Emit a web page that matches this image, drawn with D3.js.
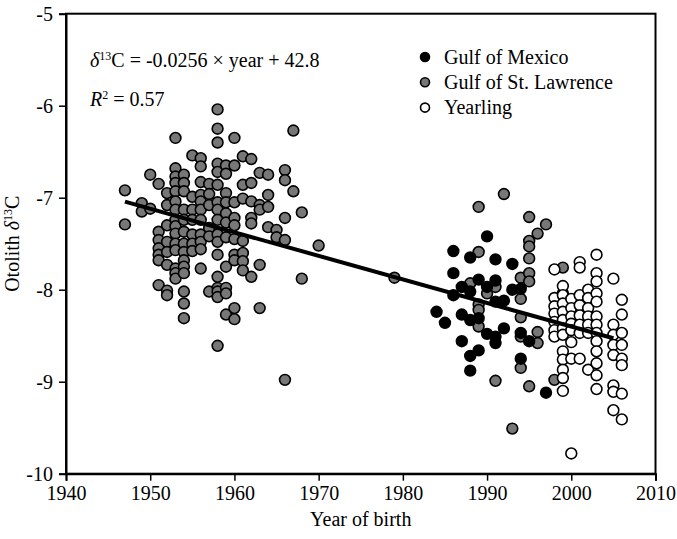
<!DOCTYPE html>
<html lang="en">
<head>
<meta charset="UTF-8">
<title>Otolith d13C by year of birth</title>
<script src="https://d3js.org/d3.v7.min.js"></script>
<style>
  body { margin: 0; background: #fff; }
  text { font-family: "Liberation Serif", "Times New Roman", serif; fill: #000; }
</style>
</head>
<body>
<svg id="chart" width="677" height="539"></svg>
<script>
// values, grouped by year of birth
const stLawrence = [
  [1947, [-6.92, -7.29]],
  [1949, [-7.06, -7.15]],
  [1950, [-6.75, -7.12]],
  [1951, [-6.85, -7.37, -7.46, -7.55, -7.62, -7.68, -7.95]],
  [1952, [-6.95, -7.08, -7.30, -7.48, -7.59, -7.73, -8.01, -8.06]],
  [1953, [-6.35, -6.68, -6.77, -6.84, -6.93, -7.04, -7.13, -7.24, -7.31, -7.39, -7.50, -7.57, -7.77, -7.82, -7.88]],
  [1954, [-6.75, -6.84, -6.93, -7.13, -7.24, -7.37, -7.50, -7.59, -7.68, -7.75, -7.82, -8.02, -8.15, -8.31]],
  [1955, [-6.54, -6.99, -7.13, -7.24, -7.40, -7.50, -7.58]],
  [1956, [-6.57, -6.66, -6.83, -6.97, -7.04, -7.13, -7.24, -7.40, -7.48, -7.56, -7.77]],
  [1957, [-6.85, -6.96, -7.08, -7.33, -7.42, -8.02]],
  [1958, [-6.04, -6.25, -6.40, -6.63, -6.72, -6.86, -7.05, -7.13, -7.24, -7.40, -7.48, -7.62, -7.86, -7.98, -8.02, -8.08, -8.61]],
  [1959, [-6.65, -6.74, -6.95, -7.05, -7.17, -7.27, -7.43, -7.75, -7.98, -8.04, -8.27]],
  [1960, [-6.35, -6.65, -7.05, -7.22, -7.30, -7.45, -7.62, -7.68, -8.20, -8.32]],
  [1961, [-6.55, -6.86, -7.01, -7.47, -7.60, -7.69, -7.79]],
  [1962, [-6.58, -6.84, -7.04, -7.22, -7.28, -7.86]],
  [1963, [-6.73, -7.08, -7.13, -7.73, -8.20]],
  [1964, [-6.75, -6.97, -7.10, -7.32]],
  [1965, [-7.35, -7.43]],
  [1966, [-6.70, -6.81, -7.22, -7.46, -8.98]],
  [1967, [-6.27, -6.93]],
  [1968, [-7.16, -7.88]],
  [1970, [-7.52]],
  [1979, [-7.87]],
  [1988, [-7.93]],
  [1989, [-7.10, -7.59, -8.16, -8.22, -8.40]],
  [1990, [-8.04]],
  [1991, [-7.97, -8.99]],
  [1992, [-6.96]],
  [1993, [-9.51]],
  [1994, [-7.87, -8.10, -8.30, -8.51, -8.85]],
  [1995, [-7.21, -7.47, -7.53, -7.66, -7.82, -7.91, -9.05]],
  [1996, [-7.39, -8.46, -8.58]],
  [1997, [-7.29]],
  [1998, [-8.98]],
  [1999, [-7.76, -8.04]]
];

const gulfMexico = [
  [1984, [-8.24]],
  [1985, [-8.36]],
  [1986, [-7.58, -7.82, -8.06]],
  [1987, [-7.97, -8.27, -8.56]],
  [1988, [-7.65, -8.02, -8.33, -8.72, -8.88]],
  [1989, [-7.89, -8.31, -8.66]],
  [1990, [-7.42, -7.97, -8.48]],
  [1991, [-7.67, -7.90, -8.13, -8.51, -8.58]],
  [1992, [-8.12, -8.42]],
  [1993, [-7.72, -8.00]],
  [1994, [-7.99, -8.47, -8.75]],
  [1995, [-8.56]],
  [1997, [-9.12]]
];

const yearling = [
  [1998, [-7.78, -8.09, -8.18, -8.26, -8.35, -8.44, -8.51]],
  [1999, [-7.96, -8.06, -8.15, -8.24, -8.33, -8.42, -8.49, -8.67, -8.76, -8.87, -8.96, -9.10]],
  [2000, [-8.10, -8.20, -8.29, -8.37, -8.44, -8.57, -8.75, -9.78]],
  [2001, [-7.70, -7.76, -8.06, -8.17, -8.28, -8.38, -8.47, -8.75]],
  [2002, [-8.00, -8.09, -8.20, -8.29, -8.38, -8.47, -8.87]],
  [2003, [-7.62, -7.82, -7.91, -8.04, -8.13, -8.29, -8.38, -8.47, -8.56, -8.67, -8.80, -8.93, -9.08]],
  [2005, [-7.88, -8.38, -8.49, -8.60, -8.71, -9.04, -9.11, -9.31]],
  [2006, [-8.11, -8.27, -8.47, -8.60, -8.75, -8.82, -9.13, -9.41]]
];

const xTicks = [1940, 1950, 1960, 1970, 1980, 1990, 2000, 2010];
const yTicks = [-10, -9, -8, -7, -6, -5];
const fitYears = [1947, 2005];
const slope = -0.0256, intercept = 42.8;

const legendItems = [
  { name: "Gulf of Mexico", fill: "#000" },
  { name: "Gulf of St. Lawrence", fill: "#777" },
  { name: "Yearling", fill: "#fff" }
];

const flat = groups => groups.flatMap(([yr, vals]) => vals.map(v => ({ year: yr, value: v })));

const svg = d3.select("#chart");
const margin = { top: 13.7, right: 21.5, bottom: 65.3, left: 66 };
const width = +svg.attr("width");
const height = +svg.attr("height");

const x = d3.scaleLinear().domain([1940, 2010]).range([margin.left, width - margin.right]);
const y = d3.scaleLinear().domain([-10, -5]).range([height - margin.bottom, margin.top]);

// frame
svg.append("rect")
  .attr("x", x(1940)).attr("y", y(-5))
  .attr("width", x(2010) - x(1940)).attr("height", y(-10) - y(-5))
  .attr("fill", "none").attr("stroke", "#000").attr("stroke-width", 2);

const xAxis = svg.append("g")
  .attr("transform", `translate(0,${y(-10)})`)
  .call(d3.axisBottom(x).tickValues(xTicks).tickFormat(d => String(d)).tickSizeOuter(0).tickSize(7).tickPadding(5));
xAxis.select(".domain").attr("stroke-width", 2);
xAxis.selectAll(".tick line").attr("stroke-width", 1.5);
xAxis.selectAll("text").style("font-size", "20px").style("font-family", "Liberation Serif, serif");

const yAxis = svg.append("g")
  .attr("transform", `translate(${x(1940)},0)`)
  .call(d3.axisLeft(y).tickValues(yTicks).tickFormat(d => String(d)).tickSizeOuter(0).tickSize(7).tickPadding(6));
yAxis.select(".domain").attr("stroke-width", 2);
yAxis.selectAll(".tick line").attr("stroke-width", 1.5);
yAxis.selectAll("text").style("font-size", "20px").style("font-family", "Liberation Serif, serif");

// axis titles
svg.append("text")
  .attr("x", (x(1940) + x(2010)) / 2).attr("y", 526)
  .attr("text-anchor", "middle").style("font-size", "20px")
  .text("Year of birth");

const yTitle = svg.append("text")
  .attr("transform", `translate(19,${(y(-5) + y(-10)) / 2}) rotate(-90)`)
  .attr("text-anchor", "middle").style("font-size", "20px");
yTitle.append("tspan").text("Otolith ");
yTitle.append("tspan").style("font-style", "italic").text("δ");
yTitle.append("tspan").attr("dy", -7).style("font-size", "12px").text("13");
yTitle.append("tspan").attr("dy", 7).text("C");

// points
function drawPoints(groups, fill) {
  svg.append("g").selectAll("circle")
    .data(flat(groups))
    .join("circle")
    .attr("cx", d => x(d.year))
    .attr("cy", d => y(d.value))
    .attr("r", 5.4)
    .attr("fill", fill)
    .attr("stroke", "#000")
    .attr("stroke-width", 1.6);
}
drawPoints(stLawrence, legendItems[1].fill);
drawPoints(gulfMexico, legendItems[0].fill);
drawPoints(yearling, legendItems[2].fill);

// regression line
svg.append("line")
  .attr("x1", x(fitYears[0])).attr("y1", y(slope * fitYears[0] + intercept))
  .attr("x2", x(fitYears[1])).attr("y2", y(slope * fitYears[1] + intercept))
  .attr("stroke", "#000").attr("stroke-width", 4);

// equation
const eq = svg.append("text").attr("x", 90).attr("y", 67).style("font-size", "20px");
eq.append("tspan").style("font-style", "italic").text("δ");
eq.append("tspan").attr("dy", -7).style("font-size", "12px").text("13");
eq.append("tspan").attr("dy", 7).text("C = -0.0256 × year + 42.8");

const r2 = svg.append("text").attr("x", 90).attr("y", 106).style("font-size", "20px");
r2.append("tspan").style("font-style", "italic").text("R");
r2.append("tspan").attr("dy", -7).style("font-size", "12px").text("2");
r2.append("tspan").attr("dy", 7).text(" = 0.57");

// legend
const legend = svg.append("g").attr("transform", "translate(425,57)");
legend.selectAll("g")
  .data(legendItems)
  .join("g")
  .attr("transform", (d, i) => `translate(0,${i * 25.3})`)
  .each(function (d) {
    const g = d3.select(this);
    g.append("circle").attr("r", 4.5).attr("fill", d.fill)
      .attr("stroke", "#000").attr("stroke-width", 1.6);
    g.append("text").attr("x", 19).attr("y", 6.5)
      .style("font-size", "20px").text(d.name);
  });
</script>
</body>
</html>
